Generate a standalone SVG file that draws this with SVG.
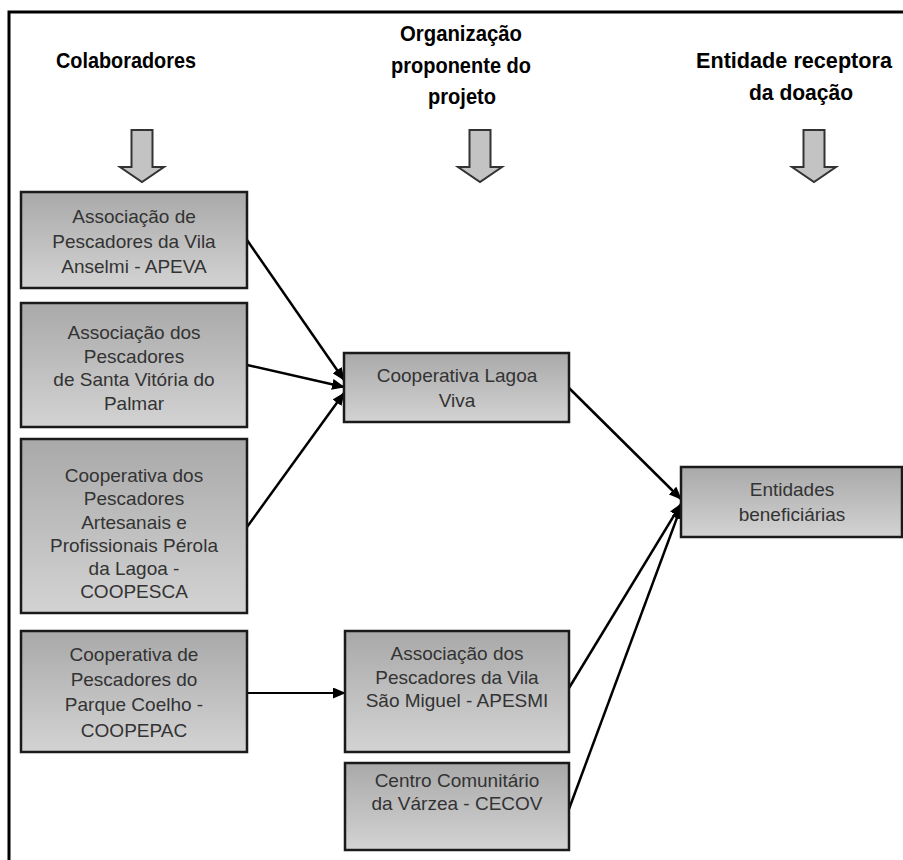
<svg xmlns="http://www.w3.org/2000/svg" width="903" height="860" viewBox="0 0 903 860">
<defs>
<linearGradient id="g" x1="0" y1="0" x2="0" y2="1">
<stop offset="0" stop-color="#a9a9a9"/>
<stop offset="1" stop-color="#d3d3d3"/>
</linearGradient>
<marker id="ah" markerWidth="13" markerHeight="11" refX="12" refY="5.5" orient="auto" markerUnits="userSpaceOnUse">
<path d="M0,0 L13,5.5 L0,11 Z" fill="#000"/>
</marker>
<path id="bigArrow" d="M-10.5,-26 H10.5 V11 H22 L0,26 L-22,11 H-10.5 Z"/>
</defs>
<style>
.box{fill:url(#g);stroke:#1a1a1a;stroke-width:2.5}
.t{font-family:"Liberation Sans",Arial,sans-serif;font-size:19px;fill:#333;text-anchor:middle}
.h{font-family:"Liberation Sans",Arial,sans-serif;font-size:22px;font-weight:bold;fill:#000;text-anchor:middle}
.ba{fill:#c3c3c3;stroke:#333;stroke-width:2}
.c{stroke:#000;stroke-width:2.5;fill:none;marker-end:url(#ah)}
</style>
<rect width="903" height="860" fill="#fff"/>
<path d="M9,860 V12 H903" fill="none" stroke="#000" stroke-width="3"/>

<g id="headers">
<text class="h" x="126" y="68" textLength="140" lengthAdjust="spacingAndGlyphs">Colaboradores</text>
<text class="h" x="461" y="41" textLength="122" lengthAdjust="spacingAndGlyphs">Organização</text>
<text class="h" x="461" y="73" textLength="140" lengthAdjust="spacingAndGlyphs">proponente do</text>
<text class="h" x="462" y="104" textLength="68" lengthAdjust="spacingAndGlyphs">projeto</text>
<text class="h" x="794" y="68" textLength="196" lengthAdjust="spacingAndGlyphs">Entidade receptora</text>
<text class="h" x="801" y="100" textLength="104" lengthAdjust="spacingAndGlyphs">da doação</text>
</g>

<g id="down-arrows">
<use href="#bigArrow" class="ba" x="142" y="156"/>
<use href="#bigArrow" class="ba" x="480" y="156"/>
<use href="#bigArrow" class="ba" x="814" y="156"/>
</g>

<g id="connectors">
<line class="c" x1="247" y1="240" x2="344" y2="380"/>
<line class="c" x1="247" y1="365" x2="344" y2="387"/>
<line class="c" x1="247" y1="527" x2="344" y2="393"/>
<line class="c" x1="569" y1="388" x2="681" y2="499"/>
<line class="c" x1="569" y1="688" x2="681" y2="504"/>
<line class="c" x1="569" y1="809" x2="681" y2="507"/>
<line class="c" style="stroke-width:1.8" x1="247" y1="693" x2="345" y2="693"/>
</g>

<g id="apeva">
<rect class="box" x="21" y="192" width="226" height="96"/>
<text class="t" x="134" y="223">Associação de</text>
<text class="t" x="134" y="248">Pescadores da Vila</text>
<text class="t" x="134" y="273">Anselmi - APEVA</text>
</g>

<g id="santa-vitoria">
<rect class="box" x="21" y="303" width="226" height="124"/>
<text class="t" x="134" y="339">Associação dos</text>
<text class="t" x="134" y="363">Pescadores</text>
<text class="t" x="134" y="386">de Santa Vitória do</text>
<text class="t" x="134" y="410">Palmar</text>
</g>

<g id="coopesca">
<rect class="box" x="21" y="439" width="226" height="174"/>
<text class="t" x="134" y="482">Cooperativa dos</text>
<text class="t" x="134" y="505">Pescadores</text>
<text class="t" x="134" y="529">Artesanais e</text>
<text class="t" x="134" y="552">Profissionais Pérola</text>
<text class="t" x="134" y="575">da Lagoa  -</text>
<text class="t" x="134" y="598">COOPESCA</text>
</g>

<g id="coopepac">
<rect class="box" x="21" y="631" width="226" height="121"/>
<text class="t" x="134" y="661">Cooperativa de</text>
<text class="t" x="134" y="686">Pescadores do</text>
<text class="t" x="134" y="711">Parque Coelho -</text>
<text class="t" x="134" y="737">COOPEPAC</text>
</g>

<g id="lagoa-viva">
<rect class="box" x="344" y="353" width="225" height="69"/>
<text class="t" x="457" y="382">Cooperativa Lagoa</text>
<text class="t" x="457" y="407">Viva</text>
</g>

<g id="apesmi">
<rect class="box" x="345" y="631" width="224" height="121"/>
<text class="t" x="457" y="660">Associação dos</text>
<text class="t" x="457" y="684">Pescadores da Vila</text>
<text class="t" x="457" y="707">São Miguel  - APESMI</text>
</g>

<g id="cecov">
<rect class="box" x="345" y="763" width="224" height="87"/>
<text class="t" x="457" y="787">Centro Comunitário</text>
<text class="t" x="457" y="810">da Várzea  - CECOV</text>
</g>

<g id="entidades">
<rect class="box" x="681" y="467" width="221" height="70"/>
<text class="t" x="792" y="496">Entidades</text>
<text class="t" x="792" y="521">beneficiárias</text>
</g>
</svg>
